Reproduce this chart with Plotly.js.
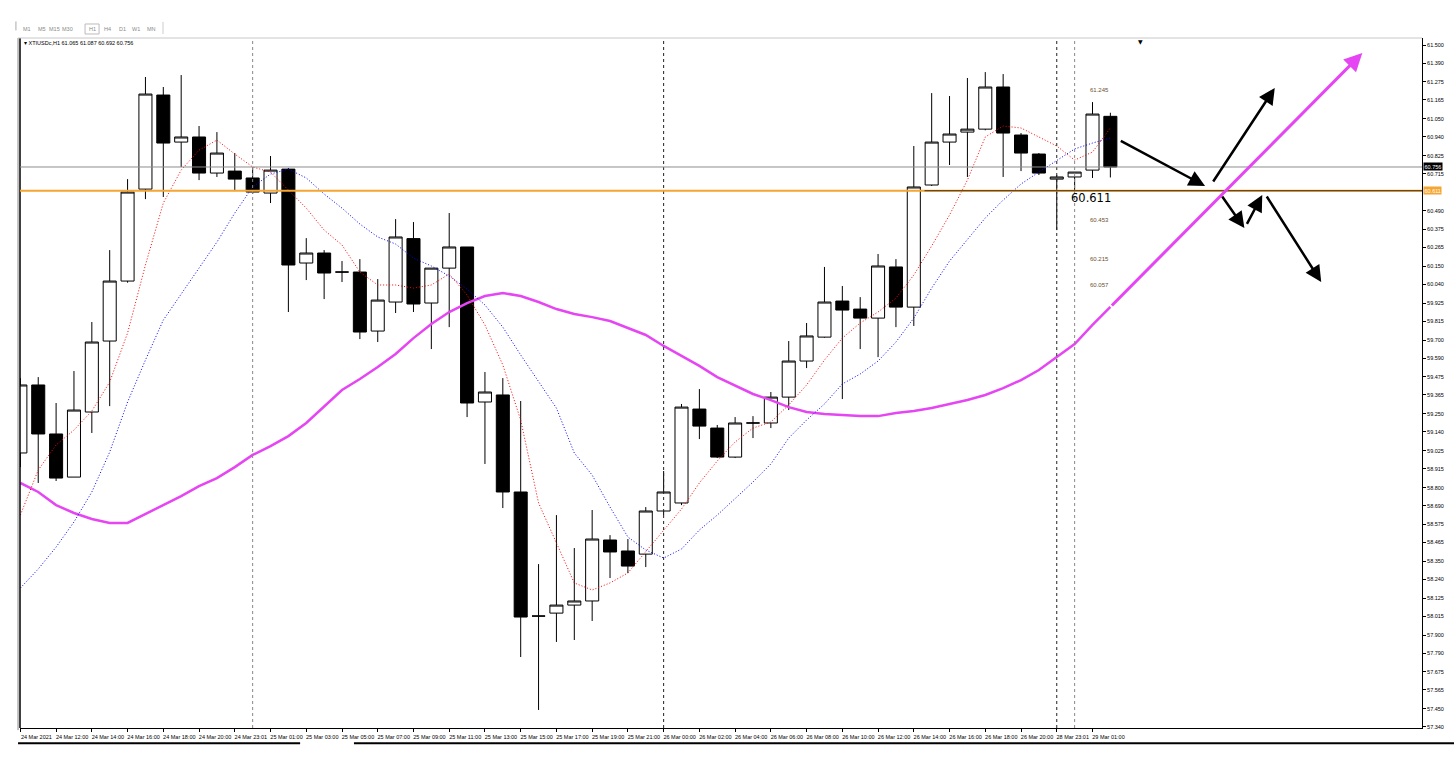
<!DOCTYPE html>
<html><head><meta charset="utf-8">
<script src="https://cdn.plot.ly/plotly-3.0.1.min.js"></script>
<style>html,body{margin:0;padding:0;background:#fff;overflow:hidden}#chart{width:1454px;height:758px}</style>
</head><body><div id="chart"></div>
<script>
// ---- data (XTIUSDc, H1) ----
const symbol = "XTIUSDc,H1";
const xLabels = ["24 Mar 2021","24 Mar 12:00","24 Mar 14:00","24 Mar 16:00","24 Mar 18:00","24 Mar 20:00","24 Mar 23:01","25 Mar 01:00","25 Mar 03:00","25 Mar 05:00","25 Mar 07:00","25 Mar 09:00","25 Mar 11:00","25 Mar 13:00","25 Mar 15:00","25 Mar 17:00","25 Mar 19:00","25 Mar 21:00","26 Mar 00:00","26 Mar 02:00","26 Mar 04:00","26 Mar 06:00","26 Mar 08:00","26 Mar 10:00","26 Mar 12:00","26 Mar 14:00","26 Mar 16:00","26 Mar 18:00","26 Mar 20:00","28 Mar 23:01","29 Mar 01:00"];
const open  = [59.011,59.426,59.127,58.864,59.261,59.694,60.060,60.621,61.195,60.908,60.939,60.719,60.731,60.689,60.597,60.743,60.170,60.231,60.115,60.115,59.755,59.932,60.319,59.926,60.139,60.268,59.322,59.365,58.773,58.016,58.034,58.083,58.108,58.480,58.413,58.394,58.657,58.706,59.279,59.163,58.986,59.194,59.194,59.352,59.572,59.718,59.938,59.889,59.834,60.146,59.901,60.646,60.908,60.969,60.987,61.244,60.951,60.835,60.682,60.695,60.737,61.065];
const high  = [59.468,59.474,59.316,59.511,59.810,60.249,60.682,61.305,61.244,61.317,61.006,60.969,60.841,60.756,60.823,60.750,60.322,60.249,60.182,60.194,60.072,60.438,60.420,60.139,60.475,60.268,59.505,59.468,59.328,58.333,58.632,58.431,58.663,58.510,58.486,58.681,58.901,59.310,59.401,59.182,59.230,59.236,59.383,59.694,59.804,60.146,60.030,59.962,60.225,60.194,60.884,61.207,61.189,61.299,61.335,61.323,60.963,60.841,60.707,60.725,61.152,61.087];
const low   = [58.925,58.828,58.840,58.864,59.133,59.297,60.050,60.560,60.573,60.756,60.676,60.695,60.609,60.591,60.536,59.871,60.066,59.950,60.054,59.706,59.688,59.865,59.871,59.645,59.779,59.230,58.944,58.675,57.766,57.443,57.858,57.870,57.986,58.248,58.278,58.315,58.632,58.693,59.096,58.980,58.980,59.102,59.163,59.273,59.529,59.714,59.340,59.645,59.596,59.779,59.786,60.640,60.768,60.695,60.980,60.695,60.731,60.707,60.371,60.615,60.689,60.692];
const close = [59.426,59.127,58.858,59.273,59.688,60.060,60.603,61.201,60.902,60.939,60.719,60.841,60.682,60.603,60.737,60.158,60.231,60.109,60.115,59.749,59.944,60.329,59.920,60.139,60.268,59.316,59.383,58.773,58.010,58.016,58.083,58.108,58.486,58.407,58.321,58.657,58.773,59.291,59.175,58.986,59.194,59.194,59.352,59.572,59.725,59.932,59.883,59.834,60.152,59.901,60.634,60.908,60.957,60.987,61.244,60.963,60.841,60.719,60.695,60.725,61.079,60.756];
const maFast = [58.632,58.907,59.060,59.151,59.267,59.444,59.743,60.158,60.536,60.737,60.859,60.920,60.835,60.756,60.725,60.615,60.505,60.371,60.280,60.115,60.036,60.036,60.017,60.036,60.103,59.975,59.792,59.548,59.212,58.706,58.462,58.218,58.175,58.218,58.279,58.407,58.541,58.669,58.828,58.962,59.078,59.163,59.200,59.304,59.426,59.578,59.712,59.804,59.871,59.956,60.097,60.274,60.463,60.676,60.939,61.006,60.994,60.939,60.884,60.798,60.847,60.994];
const maMid = [58.187,58.303,58.437,58.590,58.773,59.017,59.322,59.578,59.822,59.981,60.139,60.298,60.475,60.634,60.713,60.743,60.689,60.591,60.505,60.408,60.329,60.286,60.200,60.152,60.091,60.011,59.914,59.779,59.609,59.450,59.285,59.011,58.876,58.681,58.498,58.419,58.370,58.425,58.541,58.632,58.730,58.834,58.944,59.102,59.212,59.310,59.432,59.493,59.572,59.688,59.834,60.017,60.182,60.310,60.445,60.554,60.652,60.725,60.798,60.866,60.902,60.933];
const maSlow = [58.828,58.773,58.693,58.645,58.608,58.584,58.584,58.639,58.693,58.748,58.809,58.858,58.925,58.999,59.053,59.114,59.194,59.297,59.395,59.462,59.535,59.615,59.712,59.798,59.871,59.926,59.969,59.987,59.969,59.932,59.889,59.859,59.840,59.816,59.773,59.731,59.664,59.603,59.542,59.474,59.420,59.371,59.334,59.291,59.261,59.249,59.243,59.236,59.236,59.255,59.267,59.285,59.310,59.334,59.365,59.407,59.456,59.517,59.596,59.676,59.792,59.902];
const yTicks = [61.500,61.390,61.275,61.165,61.050,60.940,60.825,60.715,60.490,60.375,60.265,60.150,60.040,59.925,59.815,59.700,59.590,59.475,59.365,59.250,59.140,59.025,58.915,58.800,58.690,58.575,58.465,58.350,58.240,58.125,58.015,57.900,57.790,57.675,57.565,57.450,57.340];
const separators = [13, 36, 58, 59];
const levelLine = 60.611;
const levelLabels = [61.245, 60.453, 60.215, 60.057];
// drawn arrows: [tailX, tailY, headX, headY] in bar index / price
const blackArrows = [[61.5,60.920,66.3,60.640],[66.7,60.658,70.2,61.238],[67.2,60.585,68.5,60.383],[68.6,60.400,69.5,60.585],[69.7,60.585,72.8,60.054]];
const magentaArrow = [61, 59.902, 75.1, 61.451];
const tfButtons = ["M1","M5","M15","M30","H1","H4","D1","W1","MN"];

// ---- build ----
const n = open.length;
const idx = open.map((_, i) => i);
const last = n - 1;
const FONT = "Liberation Sans, Arial, sans-serif";

const traces = [
  {type:'scatter', mode:'lines', x:idx, y:maSlow, line:{color:'#e545f2', width:2.5}, hoverinfo:'skip'},
  {type:'scatter', mode:'lines', x:idx, y:maMid, line:{color:'#0000ff', width:1, dash:'1px,2px'}, hoverinfo:'skip'},
  {type:'scatter', mode:'lines', x:idx, y:maFast, line:{color:'#ff0000', width:1, dash:'1px,2px'}, hoverinfo:'skip'},
  {type:'candlestick', x:idx, open:open, high:high, low:low, close:close,
   increasing:{fillcolor:'#ffffff', line:{color:'#000000', width:1}},
   decreasing:{fillcolor:'#000000', line:{color:'#000000', width:1}},
   whiskerwidth:0, hoverinfo:'skip'}
];

const shapes = [];
// left frame lines
shapes.push({type:'line', xref:'paper', yref:'paper', x0:-0.0014, x1:-0.0014, y0:-0.003, y1:1, line:{color:'#888', width:1}});
shapes.push({type:'line', xref:'paper', yref:'paper', x0:0, x1:0, y0:0, y1:1, line:{color:'#000', width:1.5}});
// top border
shapes.push({type:'line', xref:'paper', yref:'paper', x0:-0.0014, x1:1, y0:1, y1:1, line:{color:'#c8c8c8', width:1}});
// period separators
separators.forEach((s, k) => shapes.push({type:'line', xref:'x', yref:'paper', x0:s, x1:s, y0:0, y1:1,
  line:{color:(k===1||k===2)?'#222':'#888', width:1, dash:'dot'}}));
// bid line
shapes.push({type:'line', xref:'paper', yref:'y', x0:0, x1:1, y0:close[last], y1:close[last], line:{color:'#8c8c8c', width:1}});
// orange level line
shapes.push({type:'line', xref:'paper', yref:'y', x0:0, x1:1, y0:levelLine, y1:levelLine, line:{color:'#f5a531', width:2}});
shapes.push({type:'line', xref:'x', yref:'y', x0:50.6, x1:78.5, y0:levelLine, y1:levelLine, line:{color:'#3b2a12', width:1}});
// bottom window strip
shapes.push({type:'line', xref:'paper', yref:'paper', x0:-0.0014, x1:0.1998, y0:-0.022, y1:-0.022, line:{color:'#000', width:2}});
shapes.push({type:'line', xref:'paper', yref:'paper', x0:0.2382, x1:1.03, y0:-0.022, y1:-0.022, line:{color:'#000', width:2}});
// toolbar frame
shapes.push({type:'line', xref:'paper', yref:'paper', x0:-0.0029, x1:-0.0029, y0:1.011, y1:1.024, line:{color:'#aaa', width:1}});
shapes.push({type:'rect', xref:'paper', yref:'paper', x0:0.0464, x1:0.0564, y0:1.0058, y1:1.0203, line:{color:'#bbb', width:1}, fillcolor:'rgba(0,0,0,0)'});
shapes.push({type:'line', xref:'paper', yref:'paper', x0:0.1020, x1:0.1020, y0:1.0058, y1:1.0233, line:{color:'#ccc', width:1}});

const annotations = [];
// timeframe buttons
const btnX = [27, 42, 54, 67, 92, 107, 122, 136, 151];
tfButtons.forEach((t, k) => annotations.push({xref:'paper', yref:'paper', x:(btnX[k]-20)/1402, y:(728-29)/690,
  text:t, showarrow:false, xanchor:'center', yanchor:'middle', font:{family:FONT, size:5.5, color:'#8a8a8a'}}));
// header
annotations.push({xref:'paper', yref:'paper', x:0.0015, y:0.9995, xanchor:'left', yanchor:'top', showarrow:false,
  text:'\u25BE ' + symbol + ' ' + open[last].toFixed(3) + ' ' + high[last].toFixed(3) + ' ' + low[last].toFixed(3) + ' ' + close[last].toFixed(3),
  font:{family:FONT, size:5.5, color:'#000'}});
// chart shift marker
annotations.push({xref:'paper', yref:'paper', x:(1140-20)/1402, y:1, xanchor:'center', yanchor:'top', yshift:2, showarrow:false,
  text:'\u25BC', font:{family:'DejaVu Sans', size:6, color:'#000'}});
// price boxes on axis
annotations.push({xref:'paper', yref:'y', x:1, y:close[last], xanchor:'left', yanchor:'middle', xshift:1, showarrow:false,
  text:close[last].toFixed(3), bgcolor:'#000', borderpad:0.5, font:{family:FONT, size:5.5, color:'#fff'}});
annotations.push({xref:'paper', yref:'y', x:1, y:levelLine, xanchor:'left', yanchor:'middle', xshift:1, showarrow:false,
  text:levelLine.toFixed(3), bgcolor:'#f5a531', borderpad:0.5, font:{family:FONT, size:5.5, color:'#fff'}});
// level value text
annotations.push({xref:'x', yref:'y', x:58.7, y:levelLine, xanchor:'left', yanchor:'top', yshift:2, showarrow:false,
  text:levelLine.toFixed(3), font:{family:'DejaVu Sans', size:11.5, color:'#000'}});
levelLabels.forEach(v => annotations.push({xref:'x', yref:'y', x:59.75, y:v, xanchor:'left', yanchor:'middle', yshift:-3, showarrow:false,
  text:v.toFixed(3), font:{family:FONT, size:6, color:'#6b5030'}}));
// drawn arrows
blackArrows.forEach(a => annotations.push({xref:'x', yref:'y', axref:'x', ayref:'y', ax:a[0], ay:a[1], x:a[2], y:a[3],
  text:'', showarrow:true, arrowhead:2, arrowsize:1.3, arrowwidth:2.5, arrowcolor:'#000', standoff:0, startstandoff:0}));
annotations.push({xref:'x', yref:'y', axref:'x', ayref:'y', ax:magentaArrow[0], ay:magentaArrow[1], x:magentaArrow[2], y:magentaArrow[3],
  text:'', showarrow:true, arrowhead:2, arrowsize:1.2, arrowwidth:3, arrowcolor:'#e545f2', standoff:0});

const layout = {
  width:1454, height:758,
  margin:{l:20, r:32, t:38, b:30, pad:0},
  paper_bgcolor:'#ffffff', plot_bgcolor:'#ffffff',
  showlegend:false, hovermode:false,
  boxgap:0.27, boxgroupgap:0,
  xaxis:{range:[-0.02, 78.44], tickvals:xLabels.map((_, k) => 2*k), ticktext:xLabels,
    tickfont:{family:FONT, size:5.5, color:'#000'}, ticks:'outside', ticklen:3, tickcolor:'#000', tickangle:0,
    ticklabelshift:16, showgrid:false, zeroline:false, showline:true, linecolor:'#000', linewidth:1,
    rangeslider:{visible:false}, fixedrange:true},
  yaxis:{side:'right', range:[57.333, 61.543], tickvals:yTicks, ticktext:yTicks.map(v => v.toFixed(3)),
    tickfont:{family:FONT, size:5.5, color:'#000'}, ticks:'outside', ticklen:3, tickcolor:'#000',
    showgrid:false, zeroline:false, showline:true, linecolor:'#000', linewidth:1, fixedrange:true},
  shapes:shapes, annotations:annotations
};
Plotly.newPlot('chart', traces, layout, {displayModeBar:false, staticPlot:true});
</script>
</body></html>
